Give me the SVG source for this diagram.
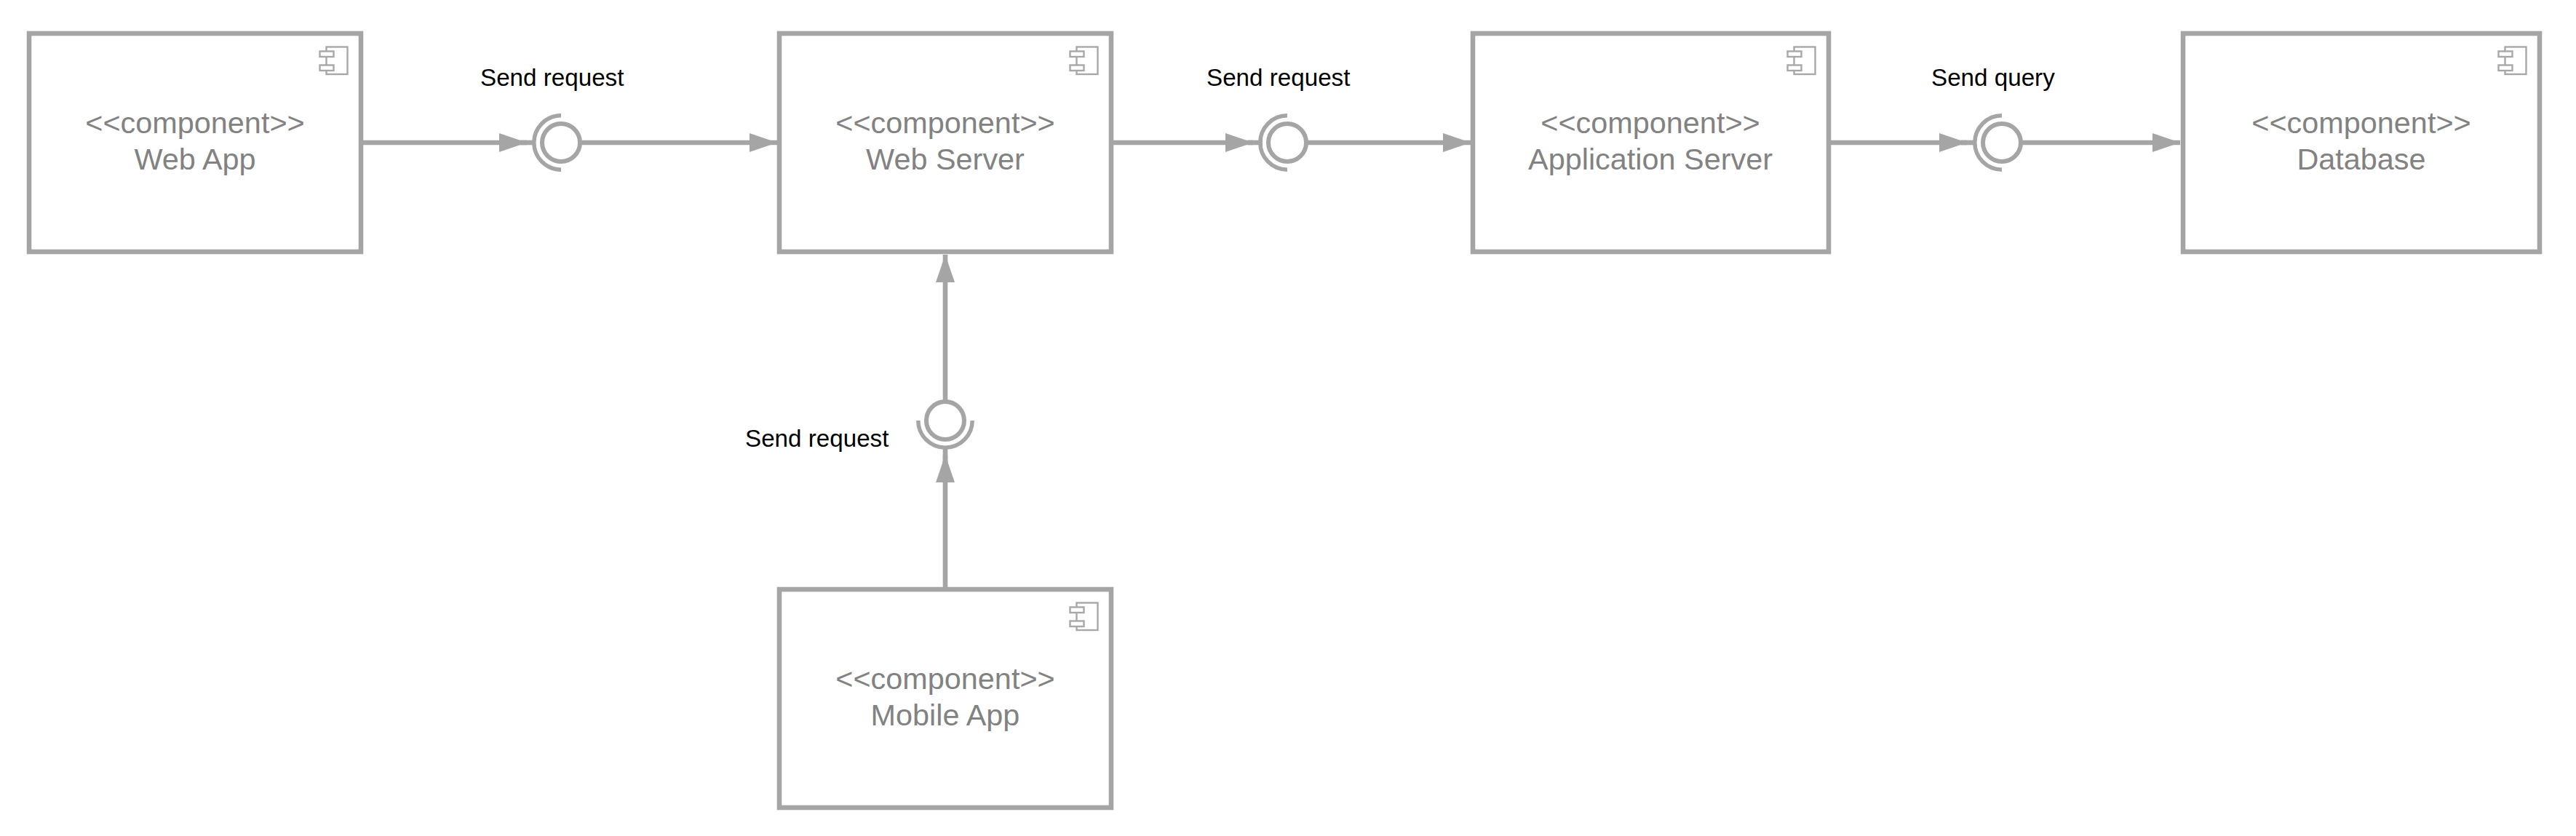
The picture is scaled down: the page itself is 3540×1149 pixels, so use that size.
<svg xmlns="http://www.w3.org/2000/svg" width="3540" height="1149" viewBox="0 0 3540 1149">
<style>
.box{fill:#fff;stroke:#a5a5a5;stroke-width:6.6}
.icon{fill:#fff;stroke:#a8a8a8;stroke-width:2.4}
.name{font:41.4px "Liberation Sans",Arial,sans-serif;fill:#828282;text-anchor:middle;opacity:.999}
.label{font:33.2px "Liberation Sans",Arial,sans-serif;fill:#000;opacity:.999}
.line{fill:none;stroke:#a5a5a5;stroke-width:6.6}
.ring{fill:#fff;stroke:#a5a5a5;stroke-width:6}
.arc{fill:none;stroke:#a5a5a5;stroke-width:5.5}
.head{fill:#a5a5a5}
</style>
<defs>
<g id="ci">
<rect class="icon" x="448.5" y="64.5" width="29" height="37.500"/>
<rect class="icon" x="439.500" y="70.500" width="19" height="7.500"/>
<rect class="icon" x="439.500" y="89.500" width="19" height="7.500"/>
</g>
<marker id="ah" markerUnits="userSpaceOnUse" markerWidth="40" markerHeight="28" refX="38" refY="13" orient="auto"><path class="head" d="M0 0L38 13L0 26Z"/></marker>
</defs>
<g id="connectors">
<path class="line" d="M496 196H724" marker-end="url(#ah)"/>
<path class="line" d="M715 196H735"/>
<path class="line" d="M798 196H1068" marker-end="url(#ah)"/>
<path class="line" d="M1527 196H1722" marker-end="url(#ah)"/>
<path class="line" d="M1715 196H1735"/>
<path class="line" d="M1796 196H2021" marker-end="url(#ah)"/>
<path class="line" d="M2513 196H2703" marker-end="url(#ah)"/>
<path class="line" d="M2695 196H2716"/>
<path class="line" d="M2778 196H2996" marker-end="url(#ah)"/>
<path class="line" d="M1299 807V625" marker-end="url(#ah)"/>
<path class="line" d="M1299 640V615"/>
<path class="line" d="M1299 551V350" marker-end="url(#ah)"/>
</g>
<g id="web-app"><rect class="box" x="40" y="46" width="456" height="300"/><use href="#ci"/><text class="name" x="268" y="183">&lt;&lt;component&gt;&gt;</text><text class="name" x="268" y="233">Web App</text></g>
<g id="web-server"><rect class="box" x="1071" y="46" width="456" height="300"/><use href="#ci" x="1031"/><text class="name" x="1299" y="183">&lt;&lt;component&gt;&gt;</text><text class="name" x="1299" y="233">Web Server</text></g>
<g id="application-server"><rect class="box" x="2024" y="46" width="489" height="300"/><use href="#ci" x="2017"/><text class="name" x="2268" y="183">&lt;&lt;component&gt;&gt;</text><text class="name" x="2268" y="233">Application Server</text></g>
<g id="database"><rect class="box" x="3000" y="46" width="490" height="300"/><use href="#ci" x="2994"/><text class="name" x="3245" y="183">&lt;&lt;component&gt;&gt;</text><text class="name" x="3245" y="233">Database</text></g>
<g id="mobile-app"><rect class="box" x="1071" y="810" width="456" height="300"/><use href="#ci" x="1031" y="764"/><text class="name" x="1299" y="947">&lt;&lt;component&gt;&gt;</text><text class="name" x="1299" y="997">Mobile App</text></g>
<g id="interface-1"><circle class="ring" cx="771" cy="196" r="26"/><path class="arc" d="M771 158.800A37.200 37.200 0 0 0 771 233.200"/><text class="label" x="660" y="118">Send request</text></g>
<g id="interface-2"><circle class="ring" cx="1769" cy="196" r="26"/><path class="arc" d="M1769 158.800A37.200 37.200 0 0 0 1769 233.200"/><text class="label" x="1658" y="118">Send request</text></g>
<g id="interface-3"><circle class="ring" cx="2751" cy="196" r="26"/><path class="arc" d="M2751 158.800A37.200 37.200 0 0 0 2751 233.200"/><text class="label" x="2654" y="118">Send query</text></g>
<g id="interface-4"><circle class="ring" cx="1299" cy="578" r="26"/><path class="arc" d="M1261.800 578A37.200 37.200 0 0 0 1336.200 578"/><text class="label" x="1024" y="614">Send request</text></g>
</svg>
